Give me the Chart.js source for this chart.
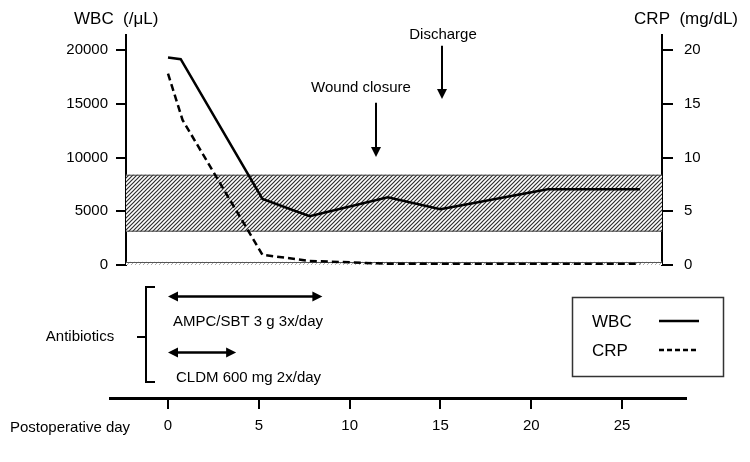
<!DOCTYPE html>
<html>
<head>
<meta charset="utf-8">
<script src="https://cdn.jsdelivr.net/npm/chart.js@4.4.0/dist/chart.umd.min.js"></script>
<style>
html,body{margin:0;padding:0;background:#fff;}
#wrap{position:relative;width:750px;height:462px;}
canvas{position:absolute;left:0;top:0;}
</style>
</head>
<body>
<div id="wrap">
  <canvas id="main" width="750" height="462"></canvas>
  <canvas id="abx" width="750" height="462"></canvas>
</div>
<script>
/* -------------------- Data -------------------- */
const wbcDays=[0,0.7,5.2,7.8,12.1,15.0,20.9,26.0];
const wbcValues=[19300,19150,6150,4550,6300,5200,7050,7050];
const crpDays=[0,0.8,5.2,7.8,12.1,15.0,20.9,26.0];
const crpValues=[17.8,13.5,0.95,0.38,0.12,0.1,0.1,0.1];

const wbcTicks=[0,5000,10000,15000,20000];
const crpTicks=[0,5,10,15,20];
const dayTicks=[0,5,10,15,20,25];

const wbcNormal=[3100,8400];
const crpNormal=[0,0.3];

const eventLabels=['Wound closure','Discharge'];
const eventDays=[11.45,15.1];

const abxLabels=['AMPC/SBT 3 g 3x/day','CLDM 600 mg 2x/day'];
const abxStart=[0,0];
const abxEnd=[8.5,3.75];

/* -------------------- Helpers -------------------- */
const FONT='"Liberation Sans", Arial, sans-serif';
const plain=v=>String(v);

function arrowHead(ctx,x,y,dx,dy){
  // filled head pointing along (dx,dy) with tip at x,y
  const len=Math.hypot(dx,dy), ux=dx/len, uy=dy/len;
  const L=10, W=5;
  ctx.beginPath();
  ctx.moveTo(x,y);
  ctx.lineTo(x-ux*L-uy*W, y-uy*L+ux*W);
  ctx.lineTo(x-ux*L+uy*W, y-uy*L-ux*W);
  ctx.closePath(); ctx.fill();
}

function hatchCanvas(bg,fg,w){
  const c=document.createElement('canvas'); c.width=4; c.height=4;
  const g=c.getContext('2d');
  g.fillStyle=bg; g.fillRect(0,0,4,4);
  g.strokeStyle=fg; g.lineWidth=w;
  g.beginPath();
  g.moveTo(-1,5); g.lineTo(5,-1);
  g.moveTo(-1,1); g.lineTo(1,-1);
  g.moveTo(3,5); g.lineTo(5,3);
  g.stroke();
  return c;
}

/* -------------------- Main chart plugin -------------------- */
const bandPlugin={
  id:'bands',
  beforeDatasetsDraw(chart){
    const {ctx,chartArea:a,scales:{y,y1}}=chart;
    ctx.save();
    // WBC normal range
    let t=y.getPixelForValue(wbcNormal[1]), b=y.getPixelForValue(wbcNormal[0]);
    ctx.fillStyle=ctx.createPattern(hatchCanvas('#fff','#2e2e2e',1.2),'repeat');
    ctx.fillRect(a.left,t,a.right-a.left,b-t);
    ctx.strokeStyle='#444'; ctx.lineWidth=1;
    ctx.beginPath();
    ctx.moveTo(a.left,t+0.5); ctx.lineTo(a.right,t+0.5);
    ctx.moveTo(a.left,b-0.5); ctx.lineTo(a.right,b-0.5);
    ctx.stroke();
    // CRP normal range
    t=y1.getPixelForValue(crpNormal[1]); b=y1.getPixelForValue(crpNormal[0]);
    ctx.fillStyle=ctx.createPattern(hatchCanvas('#fff','#999',0.8),'repeat');
    ctx.fillRect(a.left,t,a.right-a.left,b-t);
    ctx.strokeStyle='#555';
    ctx.beginPath();
    ctx.moveTo(a.left,Math.round(t)+0.5); ctx.lineTo(a.right,Math.round(t)+0.5);
    ctx.stroke();
    ctx.restore();
  },
  afterDraw(chart){
    const {ctx,scales:{x,y}}=chart;
    ctx.save();
    ctx.fillStyle='#000'; ctx.strokeStyle='#000';
    // axis titles
    ctx.font='17px '+FONT; ctx.textBaseline='middle';
    ctx.textAlign='left'; ctx.fillText('WBC  (/\u03bcL)',74,19);
    ctx.textAlign='right'; ctx.fillText('CRP  (mg/dL)',738,19);
    // events
    ctx.font='15px '+FONT; ctx.textAlign='center';
    const arrowTop=[15100,20400], arrowBot=[10050,15450], textAt=[16500,21400];
    eventLabels.forEach((lab,i)=>{
      const px=Math.round(x.getPixelForValue(eventDays[i]));
      const y0=y.getPixelForValue(arrowTop[i]), y1p=y.getPixelForValue(arrowBot[i]);
      ctx.lineWidth=2;
      ctx.beginPath(); ctx.moveTo(px,y0); ctx.lineTo(px,y1p-6); ctx.stroke();
      arrowHead(ctx,px,y1p,0,1);
      ctx.fillText(lab,px-(i===0?15:0)+(i===1?1:0),y.getPixelForValue(textAt[i]));
    });
    // legend box
    ctx.lineWidth=1.5; ctx.strokeStyle='#333';
    ctx.strokeRect(572.5,297.5,151,79);
    ctx.font='17px '+FONT; ctx.textAlign='left'; ctx.fillStyle='#000';
    const legendDash=[[],[5,3]];
    chart.data.datasets.forEach((ds,i)=>{
      const ly=322+i*29;
      ctx.fillText(ds.label,592,ly);
      ctx.strokeStyle=ds.borderColor; ctx.lineWidth=ds.borderWidth;
      ctx.setLineDash(legendDash[i]);
      ctx.beginPath(); ctx.moveTo(659,ly-1); ctx.lineTo(699,ly-1); ctx.stroke();
      ctx.setLineDash([]);
    });
    ctx.restore();
  }
};

const axisStyle={
  grid:{drawOnChartArea:false,drawTicks:true,tickLength:10,color:'#000',lineWidth:2},
  border:{display:true,color:'#000',width:2}
};

new Chart(document.getElementById('main'),{
  type:'line',
  data:{datasets:[
    {label:'WBC',data:wbcDays.map((d,i)=>({x:d,y:wbcValues[i]})),yAxisID:'y',
     borderColor:'#000',borderWidth:2.5,pointRadius:0,tension:0,fill:false},
    {label:'CRP',data:crpDays.map((d,i)=>({x:d,y:crpValues[i]})),yAxisID:'y1',
     borderColor:'#000',borderWidth:2.5,borderDash:[7,4],pointRadius:0,tension:0,fill:false}
  ]},
  options:{
    responsive:false,animation:false,
    layout:{padding:{left:0,right:0,top:35,bottom:197}},
    plugins:{legend:{display:false},tooltip:{enabled:false}},
    scales:{
      x:{type:'linear',min:-2.313,max:27.2,display:false},
      y:{position:'left',min:0,max:21400,...axisStyle,
         afterBuildTicks:s=>{s.ticks=wbcTicks.map(v=>({value:v}));},
         afterFit:s=>{s.width=126;},
         ticks:{color:'#000',font:{family:FONT,size:15},padding:8,callback:plain}},
      y1:{position:'right',min:0,max:21.4,...axisStyle,
         grid:{...axisStyle.grid,tickLength:11},
         afterBuildTicks:s=>{s.ticks=crpTicks.map(v=>({value:v}));},
         afterFit:s=>{s.width=88;},
         ticks:{color:'#000',font:{family:FONT,size:15},padding:11,callback:plain}}
    }
  },
  plugins:[bandPlugin]
});

/* -------------------- Antibiotics + day axis -------------------- */
const abxPlugin={
  id:'abx',
  afterDraw(chart){
    const {ctx,scales:{x,y}}=chart;
    ctx.save();
    ctx.fillStyle='#000'; ctx.strokeStyle='#000';
    ctx.font='15px '+FONT; ctx.textBaseline='middle';
    // bracket
    const bt=y.getPixelForValue(0.94), bb=y.getPixelForValue(0.136), bm=y.getPixelForValue(0.517);
    ctx.lineWidth=2;
    ctx.beginPath();
    ctx.moveTo(155,bt); ctx.lineTo(146,bt); ctx.lineTo(146,bb); ctx.lineTo(155,bb);
    ctx.moveTo(137,bm); ctx.lineTo(146,bm);
    ctx.stroke();
    ctx.textAlign='center'; ctx.fillText('Antibiotics',80,bm);
    ctx.textAlign='left'; ctx.fillText('Postoperative day',10,428);
    // drug arrows
    const rowY=[0.864,0.39], textY=[0.644,0.17], textX=[173,176];
    abxLabels.forEach((lab,i)=>{
      const x0=x.getPixelForValue(abxStart[i]), x1=x.getPixelForValue(abxEnd[i]);
      const py=Math.round(y.getPixelForValue(rowY[i]))+0.5;
      ctx.lineWidth=2.5;
      ctx.beginPath(); ctx.moveTo(x0+6,py); ctx.lineTo(x1-6,py); ctx.stroke();
      arrowHead(ctx,x0,py,-1,0);
      arrowHead(ctx,x1,py,1,0);
      ctx.fillText(lab,textX[i],y.getPixelForValue(textY[i]));
    });
    ctx.restore();
  }
};

new Chart(document.getElementById('abx'),{
  type:'line',
  data:{datasets:[]},
  options:{
    responsive:false,animation:false,
    layout:{padding:{left:110,right:64,top:280,bottom:0}},
    plugins:{legend:{display:false},tooltip:{enabled:false}},
    scales:{
      x:{type:'linear',position:'bottom',min:-3.194,max:28.52,
         grid:{drawOnChartArea:false,drawTicks:true,tickLength:11,color:'#000',lineWidth:2},
         border:{display:true,color:'#000',width:3},
         afterBuildTicks:s=>{s.ticks=dayTicks.map(v=>({value:v}));},
         afterFit:s=>{s.height=64;},
         ticks:{color:'#000',font:{family:FONT,size:15},padding:8,maxRotation:0,callback:plain}},
      y:{min:0,max:1,display:false}
    }
  },
  plugins:[abxPlugin]
});
</script>
</body>
</html>
